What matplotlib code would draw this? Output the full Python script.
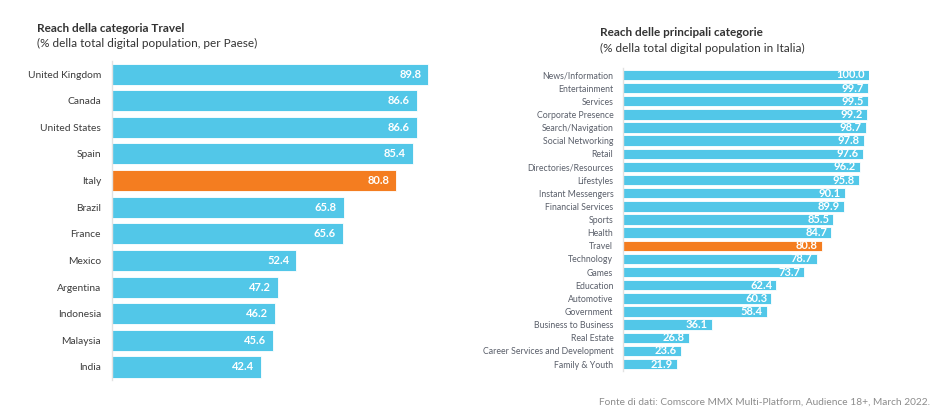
import matplotlib.pyplot as plt

plt.rcParams['font.family'] = ['Lato', 'DejaVu Sans']

# reach della categoria Travel, per paese
countries = ['United Kingdom', 'Canada', 'United States', 'Spain', 'Italy', 'Brazil',
             'France', 'Mexico', 'Argentina', 'Indonesia', 'Malaysia', 'India']
country_reach = [89.8, 86.6, 86.6, 85.4, 80.8, 65.8, 65.6, 52.4, 47.2, 46.2, 45.6, 42.4]

# reach delle principali categorie in Italia
categories = ['News/Information', 'Entertainment', 'Services', 'Corporate Presence',
              'Search/Navigation', 'Social Networking', 'Retail', 'Directories/Resources',
              'Lifestyles', 'Instant Messengers', 'Financial Services', 'Sports', 'Health',
              'Travel', 'Technology', 'Games', 'Education', 'Automotive', 'Government',
              'Business to Business', 'Real Estate', 'Career Services and Development',
              'Family & Youth']
category_reach = [100.0, 99.7, 99.5, 99.2, 98.7, 97.8, 97.6, 96.2, 95.8, 90.1, 89.9,
                  85.5, 84.7, 80.8, 78.7, 73.7, 62.4, 60.3, 58.4, 36.1, 26.8, 23.6, 21.9]

BLUE = '#52C7E8'
ORANGE = '#F47D20'


def draw(ax, labels, values, highlight, label_size, label_color, value_size, pad, offset):
    colors = [ORANGE if l == highlight else BLUE for l in labels]
    y = range(len(labels))
    ax.barh(y, values, height=0.79, color=colors, edgecolor='white', linewidth=0.6)
    for yi, v in zip(y, values):
        ax.annotate(f'{v:.1f}', (v, yi), xytext=(-offset, 0), textcoords='offset points',
                    ha='right', va='center', color='white', fontweight='bold',
                    fontsize=value_size)
    ax.set_yticks(list(y))
    ax.set_yticklabels(labels, fontsize=label_size, color=label_color)
    ax.tick_params(axis='y', length=0, pad=pad)
    ax.set_xticks([])
    ax.set_xlim(0, 100)
    ax.set_ylim(len(labels) - 0.5, -0.5)
    for s in ['top', 'right', 'bottom']:
        ax.spines[s].set_visible(False)
    ax.spines['left'].set_color('#E2E2E2')
    ax.spines['left'].set_linewidth(1.0)


fig = plt.figure(figsize=(9.35, 4.08), dpi=100)

ax1 = fig.add_axes([0.1198, 0.0679, 0.3765, 0.7833])
draw(ax1, countries, country_reach, 'Italy', 7.4, '#3C3C3C', 8, 8, 5)

ax2 = fig.add_axes([0.6663, 0.0917, 0.2631, 0.7407])
draw(ax2, categories, category_reach, 'Travel', 6.3, '#5A5F6A', 8, 7, 3)

fig.text(0.0396, 0.931, 'Reach della categoria Travel', fontsize=8.5, fontweight='bold',
         color='#333333', va='center')
fig.text(0.0396, 0.893, '(% della total digital population, per Paese)', fontsize=8.5,
         color='#333333', va='center')
fig.text(0.642, 0.921, 'Reach delle principali categorie', fontsize=8.5, fontweight='bold',
         color='#333333', va='center')
fig.text(0.642, 0.882, '(% della total digital population in Italia)', fontsize=8.5,
         color='#333333', va='center')
fig.text(0.995, 0.015, 'Fonte di dati: Comscore MMX Multi-Platform, Audience 18+, March 2022.',
         fontsize=7.3, color='#8C8C8C', ha='right', va='center')

fig.savefig('out.png', dpi=100)
